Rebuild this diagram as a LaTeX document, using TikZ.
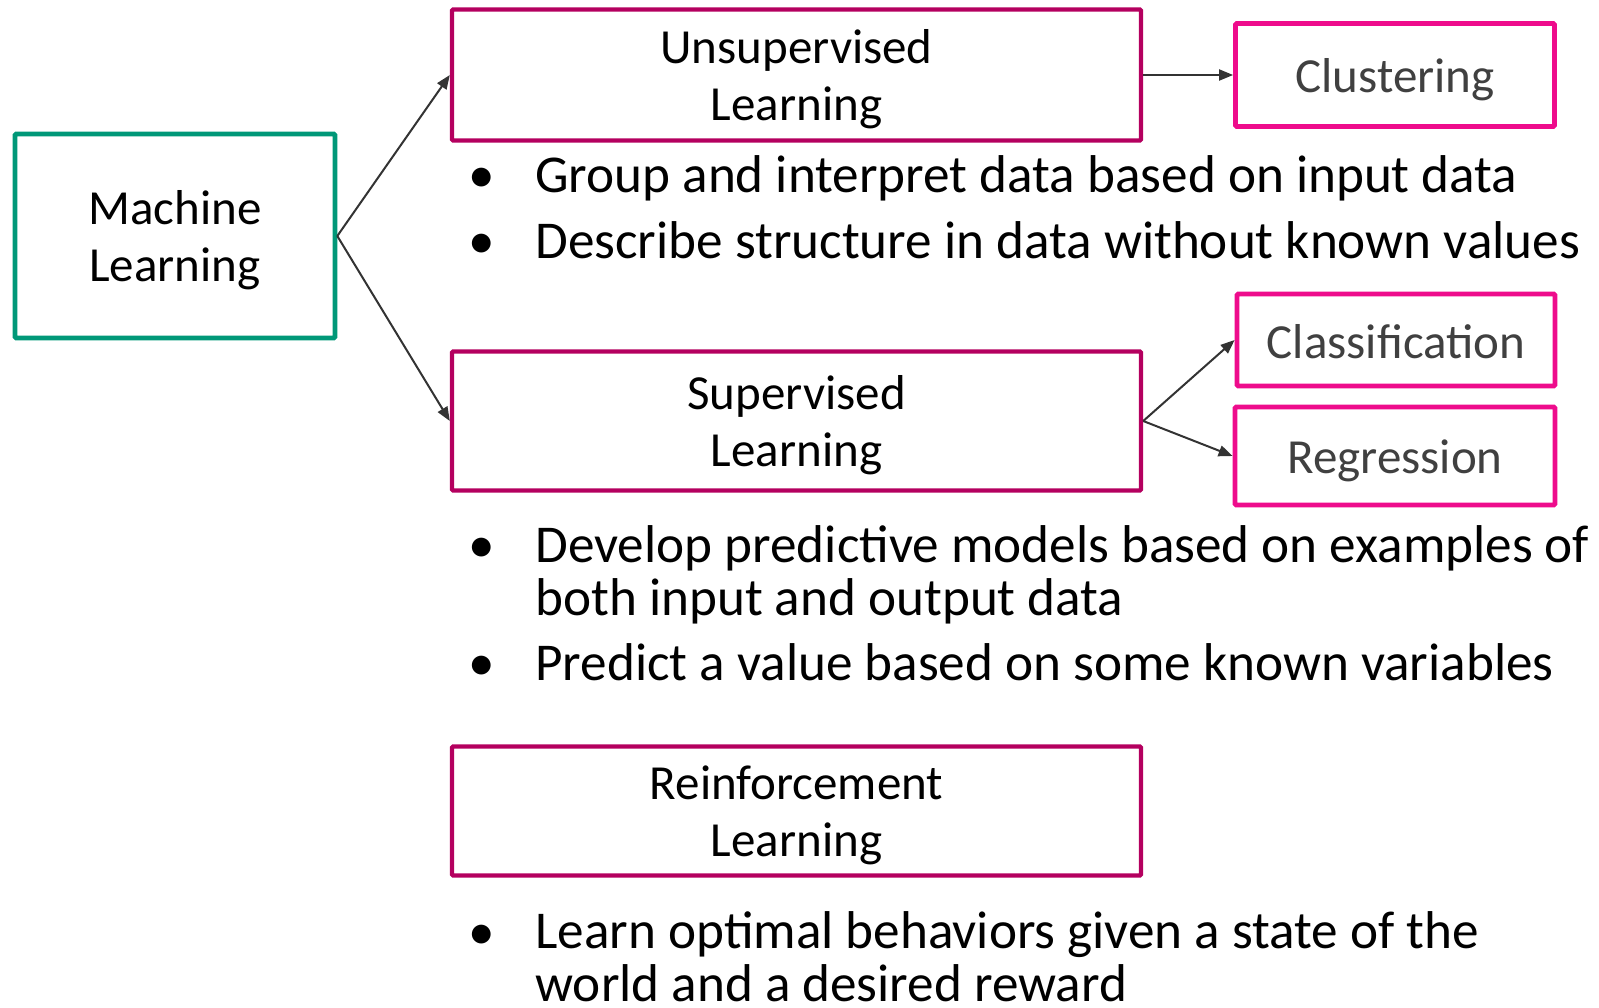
\documentclass[tikz,border=0pt]{standalone}
\usepackage{fontspec}
\setmainfont{Carlito}
\usetikzlibrary{arrows.meta}
\definecolor{mlgreen}{RGB}{0,152,120}
\definecolor{catmag}{RGB}{180,0,95}
\definecolor{subpink}{RGB}{238,12,140}
\definecolor{arrowgray}{RGB}{51,51,51}
\definecolor{subtext}{RGB}{64,64,64}
\tikzset{
  boxtext/.style={font=\fontsize{24.5}{28.5}\selectfont, align=center, inner sep=0pt},
  mlbox/.style={draw=mlgreen, line width=2.3pt, rounded corners=0.6pt, inner sep=0pt},
  catbox/.style={draw=catmag, line width=2.2pt, rounded corners=0.6pt, inner sep=0pt},
  subbox/.style={draw=subpink, line width=2.4pt, rounded corners=0.6pt, inner sep=0pt},
  subtextstyle/.style={boxtext, text=subtext},
  bullettext/.style={font=\fontsize{26.6}{26.5}\selectfont, align=left, inner sep=0pt, anchor=base west},
  bulletdot/.style={font=\fontsize{26.6}{26.5}\selectfont, inner sep=0pt, anchor=base},
  conn/.style={draw=arrowgray, line width=1pt, -{Triangle[length=7pt,width=5.5pt]}}
}
\begin{document}
\begin{tikzpicture}[x=0.5pt,y=-0.5pt]
\useasboundingbox (0,0) rectangle (1599,1007);
% boxes
\node[mlbox, minimum width=160pt, minimum height=102pt] (ml) at (175,236) {};
\node[catbox, minimum width=344.5pt, minimum height=65.5pt] (unsup) at (796.5,75) {};
\node[catbox, minimum width=344.5pt, minimum height=69.5pt] (sup) at (796.5,421) {};
\node[catbox, minimum width=344.5pt, minimum height=64.5pt] (rl) at (796.5,811) {};
\node[subbox, minimum width=159.5pt, minimum height=51.5pt] (clu) at (1395,75) {};
\node[subbox, minimum width=159pt, minimum height=46pt] (cla) at (1396,340) {};
\node[subbox, minimum width=160pt, minimum height=49pt] (reg) at (1395,456) {};
% box texts
\node[boxtext, yshift=-2pt] (mlt) at (ml.center) {Machine\\Learning};
\node[boxtext, yshift=-2pt] (unsupt) at (unsup.center) {Unsupervised\\Learning};
\node[boxtext, yshift=-2pt] (supt) at (sup.center) {Supervised\\Learning};
\node[boxtext, yshift=-2pt] (rlt) at (rl.center) {Reinforcement\\Learning};
\node[subtextstyle, yshift=-2.3pt] (clut) at (clu.center) {Clustering};
\node[subtextstyle, yshift=-1pt] (clat) at (cla.center) {Classification};
\node[subtextstyle, yshift=-2.3pt] (regt) at (reg.center) {Regression};
% bullets
\node[bulletdot] (d1) at (482,192) {•};
\node[bullettext] (b1) at (535,192) {Group and interpret data based on input data};
\node[bulletdot] (d2) at (482,258) {•};
\node[bullettext] (b2) at (535,258) {Describe structure in data without known values};
\node[bulletdot] (d3) at (482,562) {•};
\node[bullettext] (b3) at (535,615) {Develop predictive models based on examples of\\both input and output data};
\node[bulletdot] (d4) at (482,680) {•};
\node[bullettext] (b4) at (535,680) {Predict a value based on some known variables};
\node[bulletdot] (d5) at (482,949) {•};
\node[bullettext] (b5) at (535,1001) {Learn optimal behaviors given a state of the\\world and a desired reward};
% connectors
\draw[conn] (ml.east) -- (unsup.west);
\draw[conn] (ml.east) -- (sup.west);
\draw[conn] (unsup.east) -- (clu.west);
\draw[conn] (sup.east) -- (cla.west);
\draw[conn] (sup.east) -- (reg.west);
\end{tikzpicture}
\end{document}
